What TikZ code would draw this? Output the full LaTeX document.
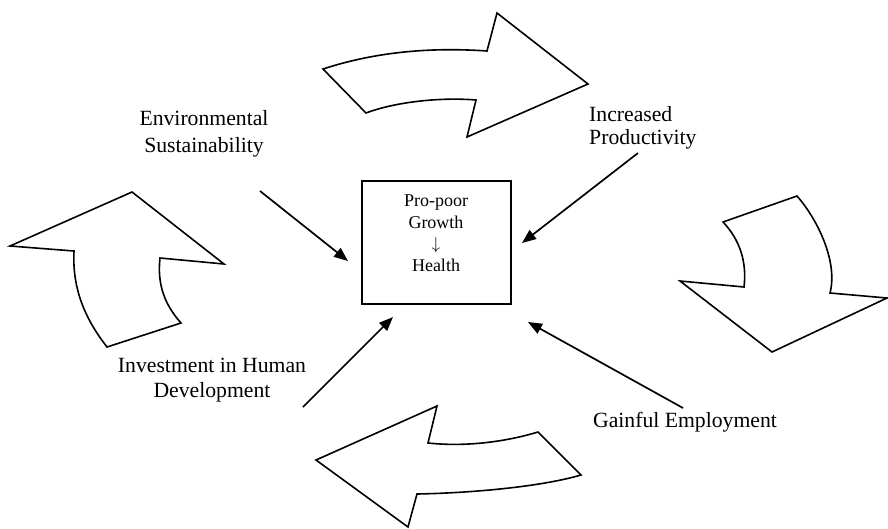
\documentclass[tikz,border=0pt]{standalone}
\usepackage{fontspec}
\setmainfont{Liberation Serif}
\usetikzlibrary{arrows.meta}

\tikzset{
  bigarrow/.style={draw=black, line width=1.6pt, line join=miter, fill=white},
  pointer/.style={draw=black, line width=1.7pt, -{Triangle[length=14pt,width=11pt]}},
  label/.style={font=\fontsize{21.7}{27}\selectfont, inner sep=0pt},
  hub/.style={draw=black, line width=1.1pt, minimum width=149pt, minimum height=123pt, inner sep=0pt}
}

\begin{document}
\begin{tikzpicture}[x=1pt, y=-1pt]
  \useasboundingbox (0,0) rectangle (888,528);

  % cycle of four block arrows around the hub
  % top: pointing right
  \draw[bigarrow] (323,69) .. controls (375,52) and (430,47) .. (487,51)
    -- (497,13) -- (588,84) -- (467,137) -- (476,100)
    .. controls (440,97) and (395,102) .. (366,113) -- cycle;
  % right: pointing down
  \draw[bigarrow] (723,222) -- (797,196) .. controls (818,220) and (838,262) .. (830,293)
    -- (887,298) -- (772,352) -- (680,281) -- (744,287)
    .. controls (747,262) and (740,240) .. (723,222) -- cycle;
  % bottom: pointing left
  \draw[bigarrow] (437,406) -- (428,443) .. controls (465,447) and (505,442) .. (538,432)
    -- (581,475) .. controls (540,487) and (470,493) .. (417,494)
    -- (408,527) -- (316,460) -- cycle;
  % left: pointing up
  \draw[bigarrow] (10,246) -- (132,192) -- (224,264) -- (160,258)
    .. controls (157,285) and (165,305) .. (181,323) -- (107,347)
    .. controls (86,320) and (72,290) .. (74,251) -- cycle;

  % central box
  \node[hub] (hub) at (436.5,242.5) {};
  \node[inner sep=0pt, align=center, font=\fontsize{18}{21.5}\selectfont] (hubtext) at (436,233)
    {Pro-poor\\Growth\\$\downarrow$\\Health};

  % factor labels
  \node[label, align=center] (env) at (204,134) {Environmental\\Sustainability};
  \node[label, align=left, anchor=west, font=\fontsize{21.7}{23.5}\selectfont] (prod) at (589,128) {Increased\\Productivity};
  \node[label, align=center, font=\fontsize{21.7}{25}\selectfont] (inv) at (212,380) {Investment in Human\\Development};
  \node[label] (emp) at (685,422) {Gainful Employment};

  % connector end points
  \coordinate (envS) at (260,191);  \coordinate (envE) at (348,261);
  \coordinate (prodS) at (638,153); \coordinate (prodE) at (522,243);
  \coordinate (invS) at (303,407);  \coordinate (invE) at (393,317);
  \coordinate (empS) at (683,408);  \coordinate (empE) at (528,322);

  \draw[pointer] (envS) -- (envE);
  \draw[pointer] (prodS) -- (prodE);
  \draw[pointer] (invS) -- (invE);
  \draw[pointer] (empS) -- (empE);
\end{tikzpicture}
\end{document}
